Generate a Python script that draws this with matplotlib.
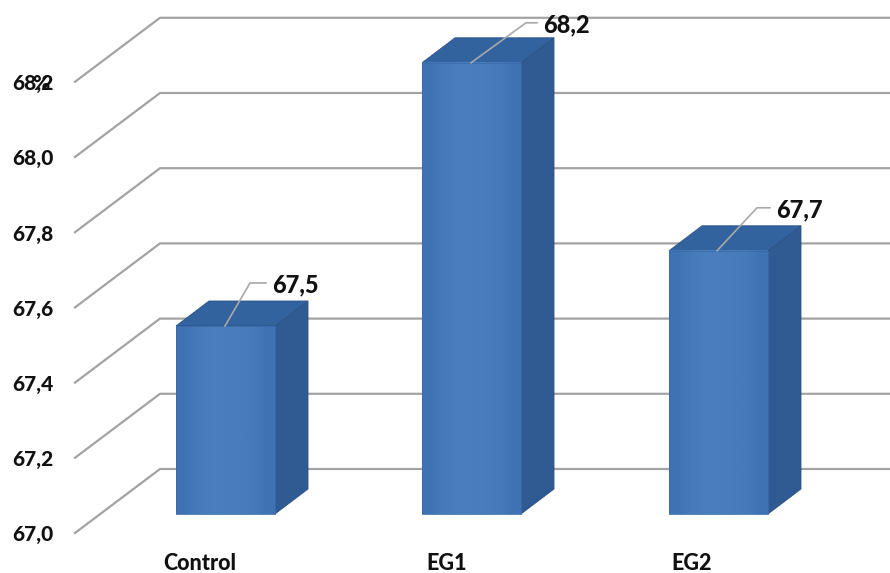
#!/usr/bin/env python3
"""
Pseudo-3D column chart of three groups, drawn as polygons on a single
full-figure axes: x in pixels, y in value units.
"""

import numpy as np
import matplotlib
import matplotlib.pyplot as plt
from matplotlib.patches import Polygon, Rectangle

matplotlib.use("Agg")

OUT_FILE = "out.png"

categories = ["Control", "EG1", "EG2"]
values = [67.5, 68.2, 67.7]
bar_lefts = [176, 422, 669]
cat_label_x = [200, 447, 692]
tick_values = [67.0, 67.2, 67.4, 67.6, 67.8, 68.0, 68.2]
tick_labels = ["67,0", "67,2", "67,4", "67,6", "67,8", "68,0", "68,2"]

# leader line knee and end, relative to the bar's front top edge
leader_bends = [(25, -43), (55, -40), (40, -43)]
leader_ends = [(41, -43), (66, -40), (53, -43)]
leader_starts = [49, 49, 48]

PX_PER_UNIT = 376.0
BASE_VALUE = 67.0
BASE_PX = 514.0
WIDTH, HEIGHT = 890, 573

BAR_W = 99
DEPTH_X, DEPTH_Y = 33, 25
WALL_X, WALL_Y = 85, 64
FLOOR_DROP = 19
FONT = "Lato"
TEXT_WEIGHT = 900

GRID = "#a3a3a3"
FRONT_EDGE = "#3f72b2"
FRONT_MID = "#4a7dbc"
SIDE = "#2f5b92"
TOP = "#33639f"


def up(px):
    # pixel distance expressed in value units
    return px / PX_PER_UNIT


fig = plt.figure(figsize=(WIDTH / 100, HEIGHT / 100), dpi=100)
ax = fig.add_axes([0, 0, 1, 1])
ax.axis("off")

# grid: diagonal on the side wall, then flat along the back wall
for tv, tl in zip(tick_values, tick_labels):
    front_y = tv - up(FLOOR_DROP)
    back_y = front_y + up(WALL_Y)
    ax.plot([75, 75 + WALL_X, WIDTH], [front_y, back_y, back_y],
            color=GRID, linewidth=1.6, solid_joinstyle="miter", zorder=1)
    ax.text(12, front_y - up(2), tl, family=FONT, fontweight=TEXT_WEIGHT,
            fontsize=15, color="#111111", va="center", ha="left")

ax.text(41, 68.2 - up(FLOOR_DROP + 2), "%", family=FONT, fontweight=TEXT_WEIGHT,
        fontsize=15, color="#111111", va="center", ha="center")

# soft lighter centre across the front face
shade = np.array([[0.0, 0.7, 1.0, 1.0, 0.9, 0.7, 0.0]])

for i, (left, val) in enumerate(zip(bar_lefts, values)):
    right = left + BAR_W
    dx, dy = DEPTH_X, up(DEPTH_Y)

    side = Polygon([(right, BASE_VALUE), (right + dx, BASE_VALUE + dy),
                    (right + dx, val + dy), (right, val)],
                   facecolor=SIDE, edgecolor="#2a5285", linewidth=0.6, zorder=3)
    top = Polygon([(left, val), (left + dx, val + dy),
                   (right + dx, val + dy), (right, val)],
                  facecolor=TOP, edgecolor="#2a5285", linewidth=0.6, zorder=3)
    ax.add_patch(side)
    ax.add_patch(top)

    cmap = matplotlib.colors.LinearSegmentedColormap.from_list(
        "face", [FRONT_EDGE, FRONT_MID])
    ax.imshow(shade, cmap=cmap, vmin=0, vmax=1, interpolation="bilinear",
              extent=(left, right, BASE_VALUE, val), aspect="auto", zorder=4)
    ax.add_patch(Rectangle((left, BASE_VALUE), BAR_W, val - BASE_VALUE,
                           facecolor="none", edgecolor="#3a6cab",
                           linewidth=0.6, zorder=5))

    # value label with its leader line
    start_x = left + leader_starts[i]
    bx, by = leader_bends[i]
    ex, ey = leader_ends[i]
    ax.plot([start_x, start_x + bx, start_x + ex],
            [val, val - up(by), val - up(ey)],
            color="#a8a8a8", linewidth=1.2, zorder=6)
    ax.text(start_x + ex + 6, val - up(ey + 2), f"{val:.1f}".replace(".", ","),
            family=FONT, fontweight=TEXT_WEIGHT, fontsize=17, color="#111111",
            va="center", ha="left", zorder=7)

for cat, cx in zip(categories, cat_label_x):
    ax.text(cx, BASE_VALUE - up(564 - BASE_PX), cat, family=FONT,
            fontweight=TEXT_WEIGHT, fontsize=15.5, color="#111111",
            va="center", ha="center")

ax.set_xlim(0, WIDTH)
ax.set_ylim(BASE_VALUE - up(HEIGHT - BASE_PX), BASE_VALUE + up(BASE_PX))

fig.savefig(OUT_FILE, dpi=100, facecolor="white")
print(f"Saved: {OUT_FILE}")
